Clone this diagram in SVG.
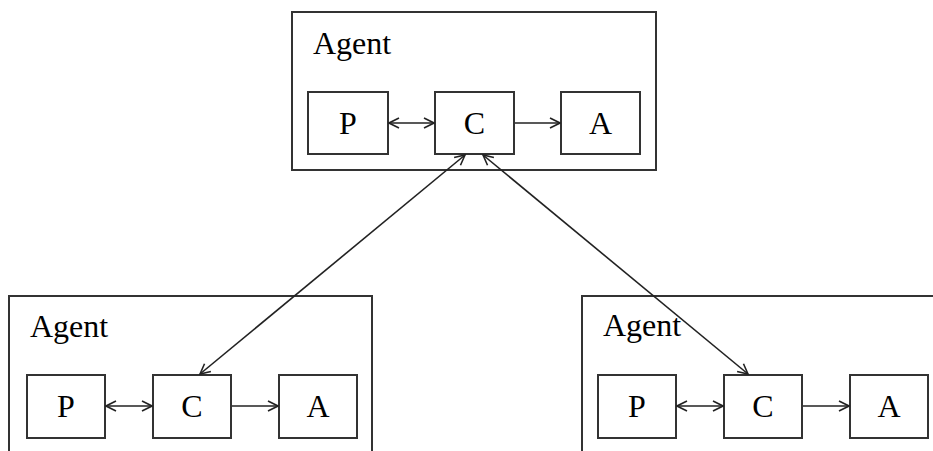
<svg xmlns="http://www.w3.org/2000/svg" width="933" height="451" viewBox="0 0 933 451">
  <style>
    .frame { fill: #fff; stroke: #333; stroke-width: 2; }
    .box { fill: #fff; stroke: #333; stroke-width: 2; }
    .title { font-family: "Liberation Serif", "Times New Roman", serif; font-size: 32px; fill: #000; }
    .lbl { font-family: "Liberation Serif", "Times New Roman", serif; font-size: 32px; fill: #000; text-anchor: middle; }
    .link { fill: none; stroke: #222; stroke-width: 1.6; }
  </style>
  <defs>
    <marker id="arrow" markerUnits="userSpaceOnUse" markerWidth="12" markerHeight="12" refX="11" refY="6" orient="auto-start-reverse" viewBox="0 0 12 12">
      <path d="M1,1 L11,6 L1,11" fill="none" stroke="#222" stroke-width="1.6"/>
    </marker>
  </defs>
  <rect width="933" height="451" fill="#fff"/>

  <!-- top agent -->
  <g id="agent-top">
    <rect class="frame" x="292" y="12" width="364" height="158"/>
    <text class="title" x="313" y="54">Agent</text>
    <g id="top-p"><rect class="box" x="308" y="92" width="80" height="62"/><text class="lbl" x="348" y="134">P</text></g>
    <g id="top-c"><rect class="box" x="435" y="92" width="79" height="62"/><text class="lbl" x="474.5" y="134">C</text></g>
    <g id="top-a"><rect class="box" x="561" y="92" width="79" height="62"/><text class="lbl" x="600.5" y="134">A</text></g>
  </g>

  <!-- lower left agent -->
  <g id="agent-left">
    <rect class="frame" x="9" y="296" width="363" height="170"/>
    <text class="title" x="30" y="337">Agent</text>
    <g id="left-p"><rect class="box" x="27" y="375" width="78" height="63"/><text class="lbl" x="66" y="417">P</text></g>
    <g id="left-c"><rect class="box" x="153" y="375" width="78" height="63"/><text class="lbl" x="192" y="417">C</text></g>
    <g id="left-a"><rect class="box" x="279" y="375" width="78" height="63"/><text class="lbl" x="318" y="417">A</text></g>
  </g>

  <!-- lower right agent -->
  <g id="agent-right">
    <rect class="frame" x="582" y="296" width="380" height="170"/>
    <text class="title" x="603" y="336">Agent</text>
    <g id="right-p"><rect class="box" x="598" y="375" width="78" height="63"/><text class="lbl" x="637" y="417">P</text></g>
    <g id="right-c"><rect class="box" x="724" y="375" width="78" height="63"/><text class="lbl" x="763" y="417">C</text></g>
    <g id="right-a"><rect class="box" x="850" y="375" width="78" height="63"/><text class="lbl" x="889" y="417">A</text></g>
  </g>

  <!-- connectors -->
  <g id="connectors">
    <line class="link" x1="389" y1="123" x2="434" y2="123" marker-start="url(#arrow)" marker-end="url(#arrow)"/>
    <line class="link" x1="515" y1="123" x2="560" y2="123" marker-end="url(#arrow)"/>
    <line class="link" x1="106" y1="406" x2="152" y2="406" marker-start="url(#arrow)" marker-end="url(#arrow)"/>
    <line class="link" x1="232" y1="406" x2="278" y2="406" marker-end="url(#arrow)"/>
    <line class="link" x1="677" y1="406" x2="723" y2="406" marker-start="url(#arrow)" marker-end="url(#arrow)"/>
    <line class="link" x1="803" y1="406" x2="849" y2="406" marker-end="url(#arrow)"/>
    <line class="link" x1="465" y1="155" x2="200" y2="374" marker-start="url(#arrow)" marker-end="url(#arrow)"/>
    <line class="link" x1="483" y1="155" x2="748" y2="374" marker-start="url(#arrow)" marker-end="url(#arrow)"/>
  </g>
</svg>
